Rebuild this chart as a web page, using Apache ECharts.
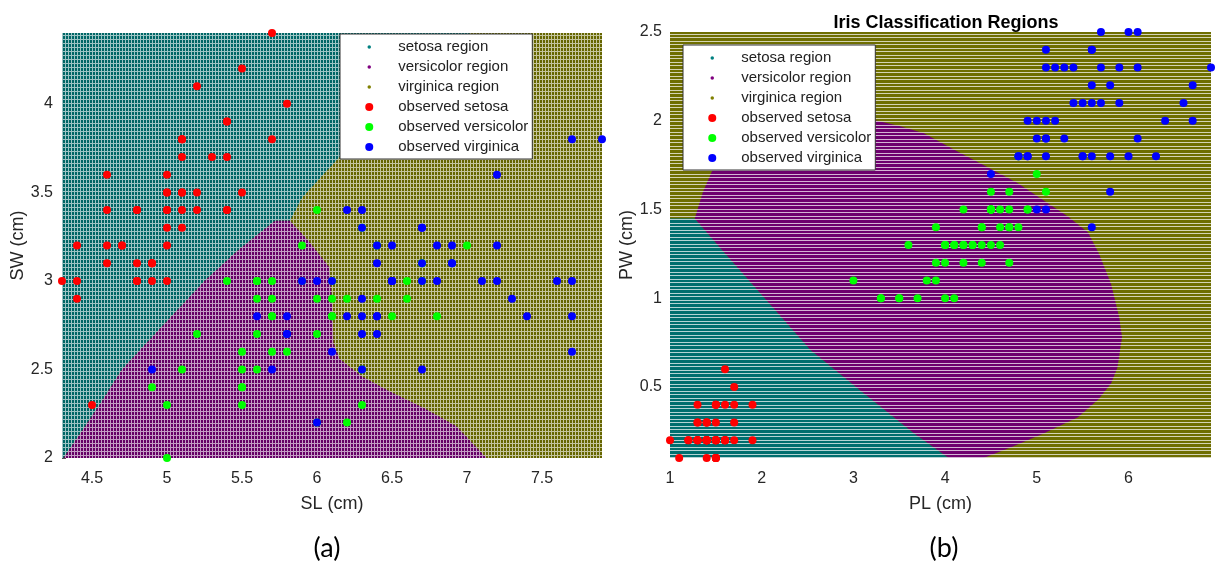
<!DOCTYPE html>
<html>
<head>
<meta charset="utf-8">
<title>Iris Classification Regions</title>
<script src="https://cdn.jsdelivr.net/npm/echarts@6/dist/echarts.min.js"></script>
<style>
	html, body { margin: 0; padding: 0; background: #fff; }
	#myChart { width: 1219px; height: 562px; }
</style>
</head>
<body>
<div id="myChart"></div>
<script>
// observed iris samples (SL, SW, PL, PW) per species
var setosaSL = [5.1,4.9,4.7,4.6,5.0,5.4,4.6,5.0,4.4,4.9,5.4,4.8,4.8,4.3,5.8,5.7,5.4,5.1,5.7,5.1,5.4,5.1,4.6,5.1,4.8,5.0,5.0,5.2,5.2,4.7,4.8,5.4,5.2,5.5,4.9,5.0,5.5,4.9,4.4,5.1,5.0,4.5,4.4,5.0,5.1,4.8,5.1,4.6,5.3,5.0];
var setosaSW = [3.5,3.0,3.2,3.1,3.6,3.9,3.4,3.4,2.9,3.1,3.7,3.4,3.0,3.0,4.0,4.4,3.9,3.5,3.8,3.8,3.4,3.7,3.6,3.3,3.4,3.0,3.4,3.5,3.4,3.2,3.1,3.4,4.1,4.2,3.1,3.2,3.5,3.1,3.0,3.4,3.5,2.3,3.2,3.5,3.8,3.0,3.8,3.2,3.7,3.3];
var setosaPL = [1.4,1.4,1.3,1.5,1.4,1.7,1.4,1.5,1.4,1.5,1.5,1.6,1.4,1.1,1.2,1.5,1.3,1.4,1.7,1.5,1.7,1.5,1.0,1.7,1.9,1.6,1.6,1.5,1.4,1.6,1.6,1.5,1.5,1.4,1.5,1.2,1.3,1.5,1.3,1.5,1.3,1.3,1.3,1.6,1.9,1.4,1.6,1.4,1.5,1.4];
var setosaPW = [0.2,0.2,0.2,0.2,0.2,0.4,0.3,0.2,0.2,0.1,0.2,0.2,0.1,0.1,0.2,0.4,0.4,0.3,0.3,0.3,0.2,0.4,0.2,0.5,0.2,0.2,0.4,0.2,0.2,0.2,0.2,0.4,0.1,0.2,0.1,0.2,0.2,0.1,0.2,0.2,0.3,0.3,0.2,0.6,0.4,0.3,0.2,0.2,0.2,0.2];

var versicolorSL = [7.0,6.4,6.9,5.5,6.5,5.7,6.3,4.9,6.6,5.2,5.0,5.9,6.0,6.1,5.6,6.7,5.6,5.8,6.2,5.6,5.9,6.1,6.3,6.1,6.4,6.6,6.8,6.7,6.0,5.7,5.5,5.5,5.8,6.0,5.4,6.0,6.7,6.3,5.6,5.5,5.5,6.1,5.8,5.0,5.6,5.7,5.7,6.2,5.1,5.7];
var versicolorSW = [3.2,3.2,3.1,2.3,2.8,2.8,3.3,2.4,2.9,2.7,2.0,3.0,2.2,2.9,2.9,3.1,3.0,2.7,2.2,2.5,3.2,2.8,2.5,2.8,2.9,3.0,2.8,3.0,2.9,2.6,2.4,2.4,2.7,2.7,3.0,3.4,3.1,2.3,3.0,2.5,2.6,3.0,2.6,2.3,2.7,3.0,2.9,2.9,2.5,2.8];
var versicolorPL = [4.7,4.5,4.9,4.0,4.6,4.5,4.7,3.3,4.6,3.9,3.5,4.2,4.0,4.7,3.6,4.4,4.5,4.1,4.5,3.9,4.8,4.0,4.9,4.7,4.3,4.4,4.8,5.0,4.5,3.5,3.8,3.7,3.9,5.1,4.5,4.5,4.7,4.4,4.1,4.0,4.4,4.6,4.0,3.3,4.2,4.2,4.2,4.3,3.0,4.1];
var versicolorPW = [1.4,1.5,1.5,1.3,1.5,1.3,1.6,1.0,1.3,1.4,1.0,1.5,1.0,1.4,1.3,1.4,1.5,1.0,1.5,1.1,1.8,1.3,1.5,1.2,1.3,1.4,1.4,1.7,1.5,1.0,1.1,1.0,1.2,1.6,1.5,1.6,1.5,1.3,1.3,1.3,1.2,1.4,1.2,1.0,1.3,1.2,1.3,1.3,1.1,1.3];

var virginicaSL = [6.3,5.8,7.1,6.3,6.5,7.6,4.9,7.3,6.7,7.2,6.5,6.4,6.8,5.7,5.8,6.4,6.5,7.7,7.7,6.0,6.9,5.6,7.7,6.3,6.7,7.2,6.2,6.1,6.4,7.2,7.4,7.9,6.4,6.3,6.1,7.7,6.3,6.4,6.0,6.9,6.7,6.9,5.8,6.8,6.7,6.7,6.3,6.5,6.2,5.9];
var virginicaSW = [3.3,2.7,3.0,2.9,3.0,3.0,2.5,2.9,2.5,3.6,3.2,2.7,3.0,2.5,2.8,3.2,3.0,3.8,2.6,2.2,3.2,2.8,2.8,2.7,3.3,3.2,2.8,3.0,2.8,3.0,2.8,3.8,2.8,2.8,2.6,3.0,3.4,3.1,3.0,3.1,3.1,3.1,2.7,3.2,3.3,3.0,2.5,3.0,3.4,3.0];
var virginicaPL = [6.0,5.1,5.9,5.6,5.8,6.6,4.5,6.3,5.8,6.1,5.1,5.3,5.5,5.0,5.1,5.3,5.5,6.7,6.9,5.0,5.7,4.9,6.7,4.9,5.7,6.0,4.8,4.9,5.6,5.8,6.1,6.4,5.6,5.1,5.6,6.1,5.6,5.5,4.8,5.4,5.6,5.1,5.1,5.9,5.7,5.2,5.0,5.2,5.4,5.1];
var virginicaPW = [2.5,1.9,2.1,1.8,2.2,2.1,1.7,1.8,1.8,2.5,2.0,1.9,2.1,2.0,2.4,2.3,1.8,2.2,2.3,1.5,2.3,2.0,2.0,1.8,2.1,1.8,1.8,1.8,2.1,1.6,1.9,2.0,2.2,1.5,1.4,2.3,2.4,1.8,1.8,2.1,2.4,2.3,1.9,2.3,2.5,2.3,1.9,2.0,2.3,1.8];

// classification region outlines
// (a) SL-SW plane, virginica fills the rest of the plot
var regionSetosaA = [[4.3,2.0],[4.31,2.0],[4.55,2.3],[4.70,2.5],[4.92,2.7],[5.14,2.9],[5.25,3.0],[5.47,3.17],[5.72,3.34],[5.82,3.34],[5.90,3.47],[6.15,3.70],[7.02,4.4],[4.3,4.4]];
var regionVersicolorA = [[4.31,2.0],[4.55,2.3],[4.70,2.5],[4.92,2.7],[5.14,2.9],[5.25,3.0],[5.47,3.17],[5.72,3.34],[5.82,3.34],[5.95,3.22],[6.08,3.08],[6.10,2.9],[6.11,2.65],[6.15,2.56],[6.30,2.46],[6.50,2.37],[6.72,2.28],[6.93,2.18],[7.13,2.0]];
var regionVirginicaA = [[4.3,2.0],[7.9,2.0],[7.9,4.4],[4.3,4.4]];
// (b) PL-PW plane
var regionSetosaB = [[1.0,0.1],[1.0,1.45],[1.27,1.45],[1.57,1.27],[2.0,1.02],[2.53,0.71],[3.1,0.47],[3.66,0.24],[4.04,0.1]];
var regionVersicolorB = [[1.27,1.45],[1.36,1.6],[1.47,1.73],[1.62,1.83],[1.85,1.91],[2.2,1.96],[2.7,1.99],[3.26,2.0],[3.5,1.97],[3.77,1.93],[4.09,1.84],[4.46,1.74],[4.79,1.65],[5.08,1.55],[5.34,1.46],[5.56,1.37],[5.68,1.25],[5.81,1.08],[5.90,0.89],[5.93,0.78],[5.88,0.61],[5.81,0.52],[5.67,0.43],[5.45,0.33],[5.08,0.24],[4.72,0.16],[4.42,0.1],[4.04,0.1],[3.66,0.24],[3.1,0.47],[2.53,0.71],[2.0,1.02],[1.57,1.27]];
var regionVirginicaB = [[1.0,0.1],[6.9,0.1],[6.9,2.5],[1.0,2.5]];

// tick labels
var ticksSL = [4.5,5,5.5,6,6.5,7,7.5];
var ticksSW = [2,2.5,3,3.5,4];
var ticksPL = [1,2,3,4,5,6];
var ticksPW = [0.5,1,1.5,2,2.5];

var legendNames = ['setosa region','versicolor region','virginica region','observed setosa','observed versicolor','observed virginica'];

var myChart = echarts.init(document.getElementById('myChart'));

function zip(xs, ys) {
	var out = [];
	for (var i = 0; i < xs.length; i++) out.push([xs[i], ys[i]]);
	return out;
}

// dotted grid texture (a) and striped texture (b)
function dotPattern(col, gap) {
	var c = document.createElement('canvas');
	c.width = 3; c.height = 4;
	var ctx = c.getContext('2d');
	ctx.fillStyle = gap; ctx.fillRect(0, 0, 3, 4);
	ctx.fillStyle = col; ctx.fillRect(0, 0, 2, 3);
	return { image: c, repeat: 'repeat' };
}
function stripePattern(col, gap) {
	var c = document.createElement('canvas');
	c.width = 2; c.height = 7;
	var ctx = c.getContext('2d');
	ctx.fillStyle = col; ctx.fillRect(0, 0, 2, 7);
	ctx.fillStyle = gap;
	ctx.fillRect(0, 2, 2, 1);
	ctx.fillRect(0, 6, 2, 1);
	return { image: c, repeat: 'repeat' };
}

var TEAL = '#008080', PURPLE = '#800080', OLIVE = '#808000';

function regionSeries(name, poly, color, fill, idx) {
	return {
		type: 'custom',
		name: name,
		xAxisIndex: idx,
		yAxisIndex: idx,
		silent: true,
		clip: true,
		itemStyle: { color: color },
		data: poly,
		renderItem: function (params, api) {
			if (params.dataIndex !== 0) return null;
			var pts = poly.map(function (p) { return api.coord(p); });
			return { type: 'polygon', shape: { points: pts }, style: { fill: fill } };
		}
	};
}

function obsSeries(name, pts, color, idx) {
	return {
		type: 'scatter',
		name: name,
		xAxisIndex: idx,
		yAxisIndex: idx,
		symbolSize: 8,
		itemStyle: { color: color, opacity: 1 },
		data: pts,
		z: 5
	};
}

function legendFor(left, top) {
	return {
		orient: 'vertical',
		left: left,
		top: top,
		padding: [5, 4, 4, 23],
		backgroundColor: '#fff',
		borderColor: '#333',
		borderWidth: 1,
		itemWidth: 48,
		itemHeight: 8,
		itemGap: 4,
		selectedMode: false,
		textStyle: { fontFamily: 'Liberation Sans', fontSize: 15, color: '#222', lineHeight: 16 },
		data: legendNames.map(function (n, i) {
			if (i < 3) return { name: n, icon: 'circle', itemStyle: { borderColor: '#fff', borderWidth: 4.5 } };
			return { name: n, icon: 'circle' };
		})
	};
}

var axisFont = { fontFamily: 'Liberation Sans', fontSize: 16, color: '#262626' };
var nameFont = { fontFamily: 'Liberation Sans', fontSize: 18, color: '#262626' };

function valueAxis(name, min, max, ticks, gap, labelMargin) {
	return {
		type: 'value',
		min: min,
		max: max,
		name: name,
		nameLocation: 'middle',
		nameGap: gap,
		nameTextStyle: nameFont,
		axisLine: { show: false },
		splitLine: { show: false },
		axisTick: { inside: true, length: 4, lineStyle: { color: '#555' }, customValues: ticks },
		axisLabel: Object.assign({ margin: labelMargin, customValues: ticks }, axisFont)
	};
}

var option = {
	animation: false,
	backgroundColor: '#fff',
	title: [
		{ text: 'Iris Classification Regions', left: 941, top: 9, textAlign: 'center',
		  textStyle: { fontFamily: 'Liberation Sans', fontWeight: 'bold', fontSize: 18, color: '#000' } },
		{ text: '(a)', left: 322, top: 530, textAlign: 'center',
		  textStyle: { fontFamily: 'Lato', fontWeight: 'normal', fontSize: 27, color: '#000' } },
		{ text: '(b)', left: 939, top: 530, textAlign: 'center',
		  textStyle: { fontFamily: 'Lato', fontWeight: 'normal', fontSize: 27, color: '#000' } }
	],
	legend: [legendFor(340, 34), legendFor(683, 45)],
	grid: [
		{ left: 62, right: 617, top: 33, bottom: 104 },
		{ left: 670, right: 8, top: 32, bottom: 104 }
	],
	xAxis: [
		Object.assign(valueAxis('SL (cm)', 4.3, 7.9, ticksSL, 37, 13), { gridIndex: 0 }),
		Object.assign(valueAxis('PL (cm)', 1, 6.9, ticksPL, 37, 13), { gridIndex: 1 })
	],
	yAxis: [
		Object.assign(valueAxis('SW (cm)', 2, 4.4, ticksSW, 26, 9), { gridIndex: 0 }),
		Object.assign(valueAxis('PW (cm)', 0.1, 2.5, ticksPW, 23, 8), { gridIndex: 1 })
	],
	series: [
		regionSeries('virginica region', regionVirginicaA, OLIVE, dotPattern('#666600', '#c4c49c'), 0),
		regionSeries('setosa region', regionSetosaA, TEAL, dotPattern('#006666', '#9cc4c4'), 0),
		regionSeries('versicolor region', regionVersicolorA, PURPLE, dotPattern('#660066', '#c49cc4'), 0),
		obsSeries('observed setosa', zip(setosaSL, setosaSW), '#ff0000', 0),
		obsSeries('observed versicolor', zip(versicolorSL, versicolorSW), '#00ff00', 0),
		obsSeries('observed virginica', zip(virginicaSL, virginicaSW), '#0000ff', 0),

		regionSeries('virginica region', regionVirginicaB, OLIVE, stripePattern('#6e6e00', '#d4d4b4'), 1),
		regionSeries('setosa region', regionSetosaB, TEAL, stripePattern('#006e6e', '#b4d4d4'), 1),
		regionSeries('versicolor region', regionVersicolorB, PURPLE, stripePattern('#6e006e', '#d4b4d4'), 1),
		obsSeries('observed setosa', zip(setosaPL, setosaPW), '#ff0000', 1),
		obsSeries('observed versicolor', zip(versicolorPL, versicolorPW), '#00ff00', 1),
		obsSeries('observed virginica', zip(virginicaPL, virginicaPW), '#0000ff', 1)
	]
};

myChart.setOption(option);
</script>
</body>
</html>
